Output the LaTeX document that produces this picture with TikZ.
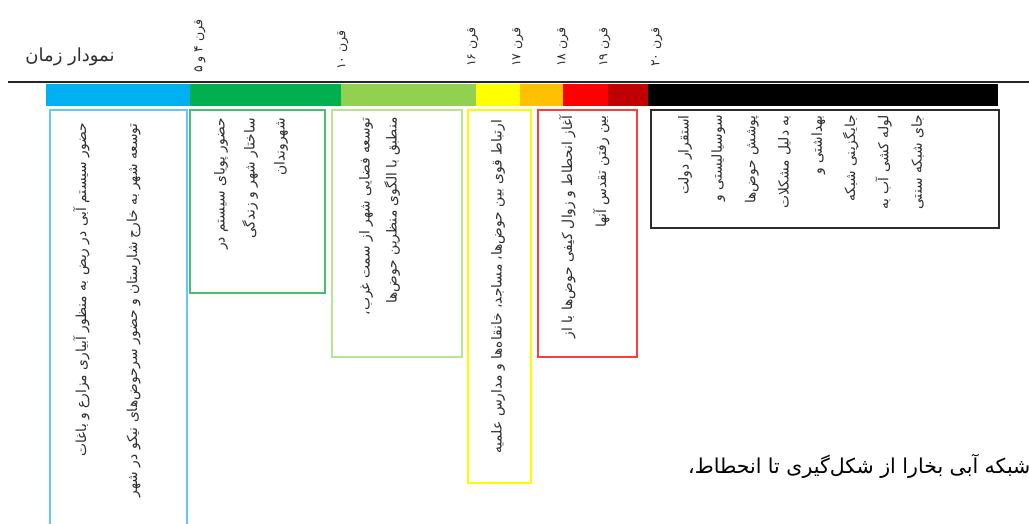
\documentclass[tikz,border=0pt]{standalone}
\usepackage{fontspec}
\newfontfamily\arabicfont[Script=Arabic]{DejaVu Sans}
\TeXXeTstate=1
\definecolor{cBlue}{RGB}{0,176,240}
\definecolor{cGreen}{RGB}{0,176,80}
\definecolor{cLGreen}{RGB}{146,208,80}
\definecolor{cYellow}{RGB}{255,255,0}
\definecolor{cOrange}{RGB}{255,192,0}
\definecolor{cRed}{RGB}{255,0,0}
\definecolor{cDRed}{RGB}{192,0,0}
\definecolor{bBlue}{RGB}{100,200,250}
\definecolor{bGreen}{RGB}{70,190,110}
\definecolor{bLGreen}{RGB}{185,228,145}
\definecolor{bYellow}{RGB}{255,250,0}
\definecolor{bRed}{RGB}{255,60,60}
\definecolor{bBlack}{RGB}{45,45,45}
\definecolor{txt}{RGB}{45,45,45}
\tikzset{
  seg/.style={fill=#1, draw=none},
  tbox/.style={draw=#1, line width=1.4pt},
  vtext/.style={rotate=90, anchor=north east, inner sep=0pt, align=right, text=txt,
    font=\arabicfont\fontsize{13.8}{#1}\selectfont},
  century/.style={rotate=90, anchor=west, inner sep=0pt, text=txt,
    font=\arabicfont\fontsize{12.5}{14}\selectfont},
}
\begin{document}
\begin{tikzpicture}[x=1pt,y=-1pt]
\useasboundingbox (0,0) rectangle (1029,523);
% axis line
\draw[line width=1.5pt, black!85] (8,82) -- (1029,82);
% colour bar
\path[seg=cBlue]   (46,84)  rectangle (190,106);
\path[seg=cGreen]  (190,84) rectangle (341,106);
\path[seg=cLGreen] (341,84) rectangle (476,106);
\path[seg=cYellow] (476,84) rectangle (520,106);
\path[seg=cOrange] (520,84) rectangle (563,106);
\path[seg=cRed]    (563,84) rectangle (608,106);
\path[seg=cDRed]   (608,84) rectangle (648,106);
\path[seg=black]   (648,84) rectangle (998,106);
% boxes
\draw[tbox=bBlue]   (50,110)  rectangle (187,540);
\draw[tbox=bGreen]  (190,110) rectangle (325,293);
\draw[tbox=bLGreen] (332,110) rectangle (462,357);
\draw[tbox=bYellow] (468,110) rectangle (531,483);
\draw[tbox=bRed]    (538,110) rectangle (637,357);
\draw[tbox=bBlack]  (651,110) rectangle (999,228);
% title
\node[font=\arabicfont\fontsize{18}{20}\selectfont, text=txt, inner sep=0pt] (title) at (70,57) {\beginR نمودار زمان\endR};
% centuries
\node[century] (c45) at (200,73) {\beginR قرن ۴ و ۵\endR};
\node[century] (c10) at (343,70) {\beginR قرن \beginL۱۰\endL\endR};
\node[century] (c16) at (473,67) {\beginR قرن \beginL۱۶\endL\endR};
\node[century] (c17) at (518,67) {\beginR قرن \beginL۱۷\endL\endR};
\node[century] (c18) at (563,67) {\beginR قرن \beginL۱۸\endL\endR};
\node[century] (c19) at (605,67) {\beginR قرن \beginL۱۹\endL\endR};
\node[century] (c20) at (657,67) {\beginR قرن \beginL۲۰\endL\endR};
% box texts
\node[vtext=51] (t1) at (73,123) {\beginR حضور سیستم آبی در ربض به منظور آبیاری مزارع و باغات\endR\\\beginR توسعه شهر به خارج شارستان و حضور سرحوض‌های نیکو در شهر\endR};
\node[vtext=30] (t2) at (214,118) {\beginR حضور پویای سیستم در\endR\\\beginR ساختار شهر و زندگی\endR\\\beginR شهروندان\endR};
\node[vtext=27] (t3) at (359,117) {\beginR توسعه فضایی شهر از سمت غرب،\endR\\\beginR منطبق با الگوی منظرین حوض‌ها\endR};
\node[vtext=30] (t4) at (491,120) {\beginR ارتباط قوی بین حوض‌ها، مساجد، خانقاه‌ها و مدارس علمیه\endR};
\node[vtext=34] (t5) at (559,115) {\beginR آغاز انحطاط و زوال کیفی حوض‌ها با از\endR\\\beginR بین رفتن تقدس آنها\endR};
\node[vtext=33.3] (t6) at (678,115) {\beginR استقرار دولت\endR\\\beginR سوسیالیستی و\endR\\\beginR پوشش حوض‌ها\endR\\\beginR به دلیل مشکلات\endR\\\beginR بهداشتی و\endR\\\beginR جایگزینی شبکه\endR\\\beginR لوله کشی آب به\endR\\\beginR جای شبکه سنتی\endR};
% caption
\node[anchor=west, inner sep=0pt, text=black, font=\arabicfont\fontsize{20.5}{22}\selectfont] (cap) at (688,466) {\beginR شبکه آبی بخارا از شکل‌گیری تا انحطاط،\endR};
\end{tikzpicture}
\end{document}
